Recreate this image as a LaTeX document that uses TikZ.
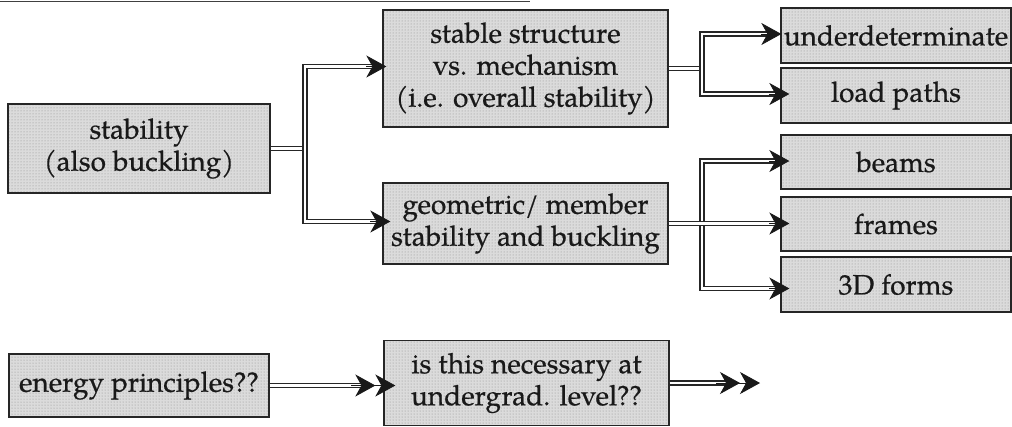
\documentclass[tikz,border=0pt]{standalone}
\usepackage{fontspec}
\setmainfont{TeX Gyre Pagella}
\newfontfamily\boxfont{TeX Gyre Pagella}[FakeBold=0.6]
\usetikzlibrary{arrows.meta,patterns}
\tikzset{
  box/.style={draw=black!85, line width=1.3pt, preaction={fill=black!14},
    pattern=dots, pattern color=black!45, inner sep=0pt, align=center,
    font=\boxfont\fontsize{28}{32}\selectfont, text=black!90},
  dbl/.style={draw=black!85, double=white, double distance=2.4pt, line width=1.6pt},
  head/.style={draw=black!90, fill=black!90, line width=0.8pt, -{Stealth[length=20pt,width=22pt,inset=6pt]}},
  headtwo/.style={draw=black!90, fill=black!90, line width=0.8pt, -{Stealth[length=20pt,width=22pt,inset=6pt]Stealth[length=20pt,width=22pt,inset=6pt,sep=-8pt]}}
}
\begin{document}
\begin{tikzpicture}[x=1pt,y=-1pt]
\useasboundingbox (0,0) rectangle (1012,426);
\draw[black!75, line width=1.5pt] (0,1.5) -- (530,1.5);
% nodes
\node[box, minimum width=262pt, minimum height=89pt] (stab) at (139,148.5) {stability\\(also buckling)};
\node[box, minimum width=285pt, minimum height=117pt] (stable) at (525.5,68.5) {stable structure\\vs. mechanism\\(i.e. overall stability)};
\node[box, minimum width=285pt, minimum height=81pt] (geom) at (525.5,223.5) {geometric/ member\\stability and buckling};
\node[box, minimum width=230pt, minimum height=55pt] (under) at (896,35.5) {underdeterminate};
\node[box, minimum width=230pt, minimum height=55pt] (load) at (896,95.5) {load paths};
\node[box, minimum width=230pt, minimum height=54pt] (beams) at (896,162) {beams};
\node[box, minimum width=230pt, minimum height=54pt] (frames) at (896,224) {frames};
\node[box, minimum width=230pt, minimum height=55pt] (forms) at (896,284.5) {3D forms};
\node[box, minimum width=260pt, minimum height=63pt] (energy) at (139,385.5) {energy principles??};
\node[box, minimum width=285pt, minimum height=85pt] (nec) at (526.5,383) {is this necessary at\\undergrad. level??};
% junctions and arrow ends
\coordinate (j1) at (305,148.5);
\coordinate (j2) at (702,68.5);
\coordinate (j3) at (702,223.5);
\coordinate (tStable) at ([xshift=4pt,yshift=2pt]stable.west);
\coordinate (tGeom) at ([xshift=8pt,yshift=2pt]geom.west);
\coordinate (tUnder) at ([xshift=1pt,yshift=1.5pt]under.west);
\coordinate (tLoad) at ([xshift=9pt,yshift=1.5pt]load.west);
\coordinate (tBeams) at ([xshift=9pt,yshift=1pt]beams.west);
\coordinate (tFrames) at ([xshift=9pt]frames.west |- geom.east);
\coordinate (tForms) at ([xshift=9pt,yshift=-4pt]forms.west);
\coordinate (tNec) at ([xshift=4pt]nec.west |- energy.east);
\coordinate (endn) at (752,383);
% stability fork
\draw[dbl] (stab.east) -- (j1);
\draw[dbl, shorten >=12pt] (j1) |- (tStable);
\draw[dbl, shorten >=12pt] (j1) |- (tGeom);
\draw[head] ([xshift=-20pt]tStable) -- (tStable);
\draw[head] ([xshift=-20pt]tGeom) -- (tGeom);
% stable fork
\draw[dbl] (stable.east) -- (j2);
\draw[dbl, shorten >=12pt] (j2) |- (tUnder);
\draw[dbl, shorten >=12pt] (j2) |- (tLoad);
\draw[head] ([xshift=-20pt]tUnder) -- (tUnder);
\draw[head] ([xshift=-20pt]tLoad) -- (tLoad);
% geometric fork
\draw[dbl, shorten >=12pt] (j3) |- (tBeams);
\draw[dbl, shorten >=12pt] (j3) |- (tForms);
\draw[dbl, shorten >=12pt] (geom.east) -- (tFrames);
\draw[head] ([xshift=-20pt]tBeams) -- (tBeams);
\draw[head] ([xshift=-20pt]tForms) -- (tForms);
\draw[head] ([xshift=-20pt]tFrames) -- (tFrames);
% energy
\draw[dbl, shorten >=26pt] (energy.east) -- (tNec);
\draw[headtwo] ([xshift=-36pt]tNec) -- (tNec);
\draw[dbl, shorten >=26pt] (nec.east) -- (endn);
\draw[headtwo] ([xshift=-36pt]endn) -- (endn);
\end{tikzpicture}
\end{document}
